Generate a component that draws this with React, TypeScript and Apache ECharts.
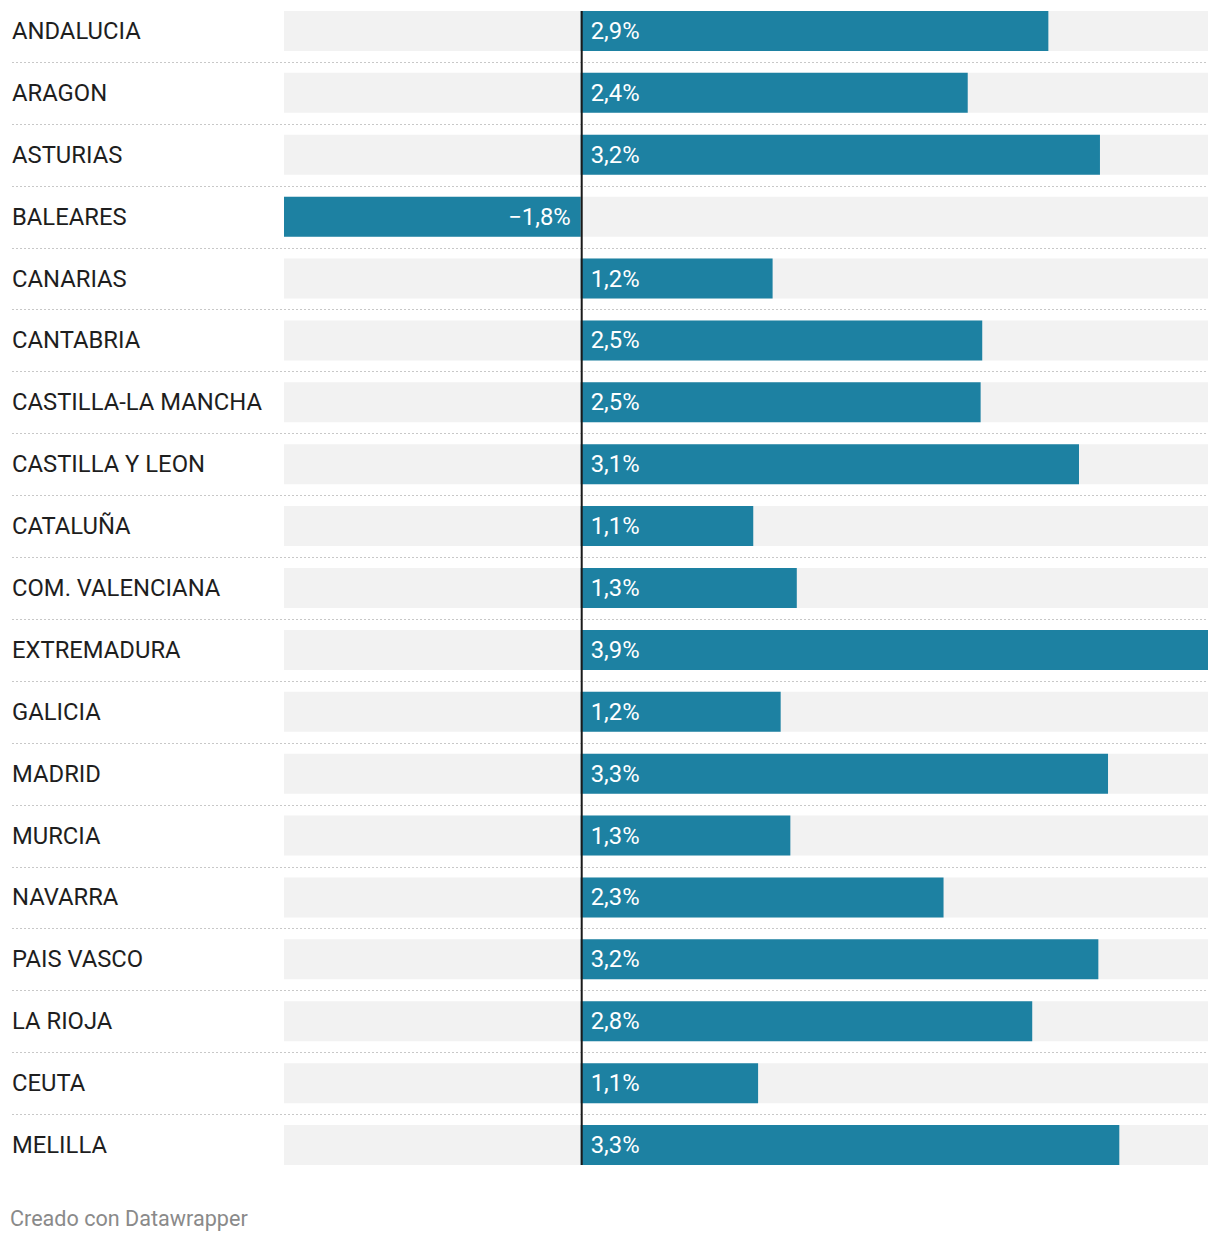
import React, { useEffect, useRef } from "react";
import * as echarts from "echarts";

const categories = [
  "ANDALUCIA", "ARAGON", "ASTURIAS", "BALEARES", "CANARIAS", "CANTABRIA",
  "CASTILLA-LA MANCHA", "CASTILLA Y LEON", "CATALUÑA", "COM. VALENCIANA",
  "EXTREMADURA", "GALICIA", "MADRID", "MURCIA", "NAVARRA", "PAIS VASCO",
  "LA RIOJA", "CEUTA", "MELILLA",
];
const values = [
  2.9, 2.4, 3.22, -1.84, 1.19, 2.49, 2.48, 3.09, 1.07, 1.34,
  3.89, 1.24, 3.27, 1.3, 2.25, 3.21, 2.8, 1.1, 3.34,
];
const footer = "Creado con Datawrapper";

const fmt = (v: number) => {
  const s = Math.abs(v).toFixed(1).replace(".", ",") + "%";
  return v < 0 ? "\u2212" + s : s;
};

export default function App() {
  const ref = useRef<HTMLDivElement>(null);
  useEffect(() => {
    document.body.style.margin = "0";
    const chart = echarts.init(ref.current!, null, { renderer: "svg" });
    const font = "Roboto, sans-serif";
    chart.setOption({
      animation: false,
      grid: { left: 284, right: 12, top: -2, height: 1178, containLabel: false },
      xAxis: {
        type: "value",
        min: Math.min(...values),
        max: Math.max(...values),
        show: false,
        splitLine: { show: false },
      },
      yAxis: {
        type: "category",
        data: categories,
        inverse: true,
        axisLine: { show: false },
        axisTick: { show: false },
        splitLine: { show: false },
        axisLabel: { align: "left", margin: 272, color: "#1e1e1e", fontSize: 23.8, fontFamily: font },
      },
      series: [
        {
          type: "bar",
          data: values.map((v) => ({
            value: v,
            label: { position: v < 0 ? "insideRight" : "insideLeft" },
          })),
          barWidth: 40,
          showBackground: true,
          backgroundStyle: { color: "#f2f2f2" },
          itemStyle: { color: "#1d81a2" },
          label: {
            show: true,
            distance: 10,
            color: "#fff",
            fontSize: 23.8,
            fontFamily: font,
            formatter: (p: any) => fmt(p.value),
          },
        },
      ],
    });

    const x0 = chart.convertToPixel({ xAxisIndex: 0 }, 0) as number;
    const ys = categories.map((c) => chart.convertToPixel({ yAxisIndex: 0 }, c) as number);
    const elements: any[] = [];
    for (let i = 0; i < ys.length - 1; i++) {
      const y = Math.round((ys[i] + ys[i + 1]) / 2) + 0.5;
      elements.push({
        type: "line",
        shape: { x1: 12, y1: y, x2: 1208, y2: y },
        style: { stroke: "#c8c8c8", lineWidth: 1, lineDash: [2, 2] },
        z: 1,
      });
    }
    elements.push({
      type: "line",
      shape: { x1: x0 + 1, y1: ys[0] - 20, x2: x0 + 1, y2: ys[ys.length - 1] + 20 },
      style: { stroke: "#1a1a1a", lineWidth: 2 },
      z: 10,
    });
    elements.push({
      type: "text",
      x: 10,
      y: 1218,
      style: {
        text: footer,
        fill: "#8a8a8a",
        fontSize: 21.6,
        fontFamily: font,
        textVerticalAlign: "middle",
      },
    });
    chart.setOption({ graphic: { elements } });

    return () => chart.dispose();
  }, []);
  return <div ref={ref} style={{ width: 1220, height: 1242 }} />;
}
